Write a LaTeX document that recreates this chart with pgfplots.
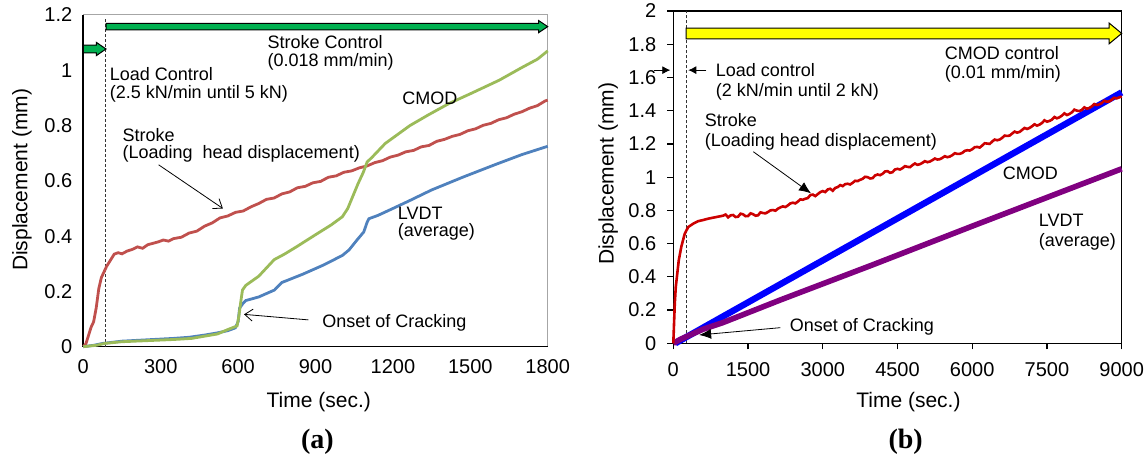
\documentclass[border=0pt]{standalone}
\usepackage{pgfplots}
\pgfplotsset{compat=1.18}
\usepackage{fontspec}
\setmainfont{Liberation Sans}
\newfontfamily\serifb{Liberation Serif}
\usetikzlibrary{calc,arrows.meta}
\definecolor{aRed}{HTML}{C0504D}
\definecolor{aGreen}{HTML}{9BBB59}
\definecolor{aBlue}{HTML}{4F81BD}
\definecolor{bRed}{HTML}{CC0000}
\definecolor{bBlue}{HTML}{0000FF}
\definecolor{bPurple}{HTML}{800080}
\definecolor{arrGreen}{HTML}{00B050}
\definecolor{arrYellow}{HTML}{FFFF00}
\newcommand{\ann}{\fontsize{9}{10.8}\selectfont}
\begin{document}
\begin{tikzpicture}
\useasboundingbox (0,0) rectangle (573pt,229.5pt);
% ---------------- (a) ----------------
\begin{axis}[
  at={(41.65pt,56.15pt)}, anchor=south west,
  scale only axis, width=232.2pt, height=165.85pt,
  xmin=0, xmax=1800, ymin=0, ymax=1.2,
  xtick={0,300,...,1800}, ytick={0,0.2,0.4,0.6,0.8,1,1.2},
  major tick length=0pt,
  axis line style={draw=gray!70, line width=0.5pt},
  /pgf/number format/assume math mode=true,
  /pgf/number format/1000 sep={},
  tick label style={font=\fontsize{10}{12}\selectfont},
  xticklabel style={yshift=-3pt},
  yticklabel style={xshift=-2pt},
  label style={font=\fontsize{10.5}{12.6}\selectfont},
  xlabel={Time (sec.)}, ylabel={Displacement (mm)},
  every axis x label/.append style={at={(rel axis cs:0.507,-0.168)}, anchor=center},
  every axis y label/.append style={at={(rel axis cs:-0.132,0.503)}, anchor=center},
  clip=false,
]
\draw[black, line width=0.8pt] (rel axis cs:0,1) -- (rel axis cs:0,0) -- (rel axis cs:1,0);
\draw[dashed, dash pattern=on 1.5pt off 1pt, line width=0.5pt, black!80] (axis cs:85,0) -- (axis cs:85,1.19);
% Stroke
\addplot[aRed, line width=1.4pt] coordinates {
(0,0) (10,0.01) (20,0.04) (30,0.07) (40,0.09) (50,0.14) (60,0.21) (70,0.25) (80,0.27) (90,0.29)
(100,0.305) (110,0.32) (120,0.335) (135,0.34) (150,0.336) (170,0.346) (190,0.352) (210,0.361) (230,0.356)
(250,0.369) (270,0.374) (290,0.379) (310,0.386) (330,0.382) (350,0.391) (380,0.396) (410,0.411) (440,0.418)
(470,0.436) (500,0.448) (530,0.466) (560,0.473) (590,0.486) (620,0.491) (650,0.506) (680,0.518) (710,0.533)
(740,0.538) (770,0.553) (800,0.56) (830,0.575) (860,0.58) (890,0.593) (920,0.598) (950,0.613) (980,0.618)
(1010,0.631) (1040,0.636) (1070,0.647) (1100,0.654) (1130,0.666) (1160,0.673) (1190,0.686) (1220,0.693)
(1250,0.705) (1280,0.71) (1310,0.723) (1340,0.728) (1370,0.743) (1400,0.75) (1430,0.761) (1460,0.768)
(1490,0.781) (1520,0.788) (1550,0.801) (1580,0.808) (1610,0.821) (1640,0.828) (1670,0.841) (1700,0.85)
(1730,0.863) (1760,0.872) (1790,0.889) (1800,0.892)};
% LVDT
\addplot[aBlue, line width=1.4pt] coordinates {
(0,0) (40,0.005) (77,0.012) (150,0.02) (250,0.025) (350,0.03) (409,0.034) (470,0.042) (520,0.05)
(560,0.058) (589,0.068) (600,0.09) (606,0.14) (620,0.158) (630,0.167) (680,0.18) (741,0.205) (769,0.232)
(850,0.262) (930,0.295) (1004,0.33) (1030,0.35) (1060,0.385) (1087,0.415) (1100,0.45) (1107,0.463)
(1142,0.475) (1200,0.50) (1266,0.529) (1350,0.567) (1473,0.614) (1600,0.66) (1700,0.695) (1800,0.725)};
% CMOD
\addplot[aGreen, line width=1.4pt] coordinates {
(0,0) (50,0.005) (85,0.012) (150,0.018) (250,0.022) (350,0.026) (420,0.03) (470,0.038) (520,0.046)
(560,0.062) (596,0.075) (603,0.11) (610,0.16) (617,0.205) (630,0.222) (680,0.255) (740,0.315) (780,0.335)
(824,0.36) (900,0.405) (960,0.44) (1004,0.47) (1025,0.50) (1045,0.545) (1065,0.59) (1085,0.63) (1100,0.668)
(1120,0.686) (1170,0.735) (1266,0.80) (1340,0.84) (1418,0.88) (1500,0.915) (1612,0.964) (1700,1.01)
(1760,1.04) (1800,1.07)};
% block arrows
\draw[fill=arrGreen, line width=0.5pt, line join=miter]
  ($(axis cs:88,1.158)+(0,1.67pt)$) -- ($(axis cs:1800,1.158)+(-4.5pt,1.67pt)$)
  -- ($(axis cs:1800,1.158)+(-4.5pt,3pt)$) -- (axis cs:1800,1.158)
  -- ($(axis cs:1800,1.158)+(-4.5pt,-3pt)$) -- ($(axis cs:1800,1.158)+(-4.5pt,-1.67pt)$)
  -- ($(axis cs:88,1.158)+(0,-1.67pt)$) -- cycle;
\draw[fill=arrGreen, line width=0.5pt, line join=miter]
  ($(axis cs:0,1.077)+(0,1.9pt)$) -- ($(axis cs:88,1.077)+(-4.8pt,1.9pt)$)
  -- ($(axis cs:88,1.077)+(-4.8pt,3.3pt)$) -- (axis cs:88,1.077)
  -- ($(axis cs:88,1.077)+(-4.8pt,-3.3pt)$) -- ($(axis cs:88,1.077)+(-4.8pt,-1.9pt)$)
  -- ($(axis cs:0,1.077)+(0,-1.9pt)$) -- cycle;
% texts
\node[anchor=west, inner sep=0pt, font=\ann] at (axis cs:713,1.102) {Stroke Control};
\node[anchor=west, inner sep=0pt, font=\ann] at (axis cs:713,1.03) {(0.018 mm/min)};
\node[anchor=west, inner sep=0pt, font=\ann] at (axis cs:101,0.987) {Load Control};
\node[anchor=west, inner sep=0pt, font=\ann] at (axis cs:101,0.914) {(2.5 kN/min until 5 kN)};
\node[anchor=west, inner sep=0pt, font=\ann] at (axis cs:1235,0.90) {CMOD};
\node[anchor=west, inner sep=0pt, font=\ann] at (axis cs:151,0.766) {Stroke};
\node[anchor=west, inner sep=0pt, font=\ann] at (axis cs:151,0.697) {(Loading\ \ head displacement)};
\node[anchor=west, inner sep=0pt, font=\ann] at (axis cs:1218,0.483) {LVDT};
\node[anchor=west, inner sep=0pt, font=\ann] at (axis cs:1218,0.416) {(average)};
\node[anchor=west, inner sep=0pt, font=\ann] at (axis cs:925,0.087) {Onset of Cracking};
\draw[line width=0.4pt, -{Straight Barb[length=4pt,width=6pt]}] (axis cs:292,0.658) -- (axis cs:541,0.50);
\draw[line width=0.4pt, -{Straight Barb[length=4pt,width=6pt]}] (axis cs:872,0.097) -- (axis cs:623,0.117);
\end{axis}
% ---------------- (b) ----------------
\begin{axis}[
  at={(336.65pt,57.85pt)}, anchor=south west,
  scale only axis, width=224.2pt, height=166.15pt,
  xmin=0, xmax=9000, ymin=0, ymax=2,
  xtick={0,1500,...,9000}, ytick={0,0.2,...,2.01},
  tick align=outside, major tick length=3pt,
  xtick pos=left, ytick pos=left,
  axis line style={line width=0.6pt},
  every tick/.style={black, line width=0.6pt},
  /pgf/number format/assume math mode=true,
  /pgf/number format/1000 sep={},
  tick label style={font=\fontsize{10}{12}\selectfont},
  xticklabel style={yshift=-3pt},
  yticklabel style={xshift=-2pt},
  label style={font=\fontsize{10.5}{12.6}\selectfont},
  xlabel={Time (sec.)}, ylabel={Displacement (mm)},
  every axis x label/.append style={at={(rel axis cs:0.5245,-0.178)}, anchor=center},
  every axis y label/.append style={at={(rel axis cs:-0.145,0.51)}, anchor=center},
  clip=false,
]
\draw[dashed, dash pattern=on 1.5pt off 1pt, line width=0.5pt, black!80] (axis cs:265,0) -- (axis cs:265,2);
% CMOD
\addplot[bBlue, line width=3.2pt] coordinates {
(40,0) (1000,0.162) (3000,0.499) (5000,0.836) (7000,1.173) (9000,1.51)};
% LVDT
\addplot[bPurple, line width=2.8pt] coordinates {
(0,0) (150,0.025) (300,0.045) (600,0.085) (1000,0.125) (2142,0.26) (4000,0.472) (6000,0.705) (8163,0.954) (9000,1.05)};
% Stroke
\addplot[bRed, line width=1.3pt] coordinates {
(0,0) (15,0.12) (30,0.24) (50,0.34) (80,0.42) (110,0.5) (160,0.58) (230,0.66) (300,0.70) (400,0.72)
(500,0.735) (600,0.742) (700,0.75) (800,0.756) (900,0.762)
(1000,0.768) (1050,0.775) (1100,0.758) (1150,0.770) (1200,0.772) (1250,0.760) (1300,0.762) (1350,0.780)
(1400,0.776) (1450,0.765) (1500,0.766) (1550,0.782) (1600,0.777) (1650,0.768) (1700,0.77) (1750,0.788)
(1800,0.784) (1850,0.782) (1900,0.79) (1950,0.80) (2000,0.802) (2050,0.798) (2100,0.81) (2150,0.818)
(2200,0.824) (2250,0.82) (2300,0.83) (2350,0.842) (2400,0.846) (2450,0.842) (2500,0.853) (2550,0.866)
(2600,0.864) (2650,0.87) (2700,0.874) (2750,0.892) (2800,0.895) (2850,0.886) (2900,0.898) (2950,0.91)
(3000,0.916) (3050,0.91) (3100,0.926) (3150,0.93) (3200,0.918) (3250,0.935) (3300,0.94) (3350,0.952)
(3400,0.946) (3450,0.958) (3500,0.96) (3550,0.956) (3600,0.966) (3650,0.978) (3700,0.976) (3750,0.984)
(3800,0.99) (3850,1.002) (3900,1.0) (3950,0.992) (4000,0.994) (4050,1.01) (4100,1.016) (4150,1.012)
(4200,1.02) (4250,1.034) (4300,1.036) (4350,1.026) (4400,1.03) (4450,1.046) (4500,1.05) (4550,1.046)
(4600,1.054) (4650,1.066) (4700,1.062) (4750,1.06) (4800,1.072) (4850,1.082) (4900,1.074) (4950,1.078)
(5000,1.086) (5050,1.096) (5100,1.09) (5150,1.094) (5200,1.102) (5250,1.112) (5300,1.106) (5350,1.108)
(5400,1.116) (5450,1.126) (5500,1.12) (5550,1.124) (5600,1.132) (5650,1.144) (5700,1.14) (5750,1.14)
(5800,1.146) (5850,1.158) (5900,1.162) (5950,1.16) (6000,1.168) (6050,1.18) (6100,1.182) (6150,1.178)
(6200,1.19) (6250,1.204) (6300,1.202) (6350,1.2) (6400,1.214) (6450,1.226) (6500,1.222) (6550,1.226)
(6600,1.236) (6650,1.25) (6700,1.248) (6750,1.25) (6800,1.262) (6850,1.274) (6900,1.268) (6950,1.272)
(7000,1.284) (7050,1.296) (7100,1.29) (7150,1.296) (7200,1.306) (7250,1.318) (7300,1.31) (7350,1.316)
(7400,1.326) (7450,1.342) (7500,1.334) (7550,1.338) (7600,1.346) (7650,1.362) (7700,1.354) (7750,1.36)
(7800,1.37) (7850,1.384) (7900,1.374) (7950,1.38) (8000,1.39) (8050,1.406) (8100,1.40) (8150,1.398)
(8200,1.404) (8250,1.42) (8300,1.412) (8350,1.416) (8400,1.426) (8450,1.44) (8500,1.434) (8550,1.438)
(8600,1.446) (8650,1.46) (8700,1.454) (8750,1.456) (8800,1.466) (8850,1.478) (8900,1.474) (8950,1.48)
(9000,1.485)};
% yellow block arrow
\draw[fill=arrYellow, line width=0.5pt, line join=miter]
  ($(axis cs:255,1.865)+(0,2.67pt)$) -- ($(axis cs:9000,1.865)+(-6.3pt,2.67pt)$)
  -- ($(axis cs:9000,1.865)+(-6.3pt,5.2pt)$) -- (axis cs:9000,1.865)
  -- ($(axis cs:9000,1.865)+(-6.3pt,-5.2pt)$) -- ($(axis cs:9000,1.865)+(-6.3pt,-2.67pt)$)
  -- ($(axis cs:255,1.865)+(0,-2.67pt)$) -- cycle;
% load control arrows
\draw[line width=0.4pt, -{Latex[length=4pt,width=4pt]}] (axis cs:-387,1.644) -- (axis cs:-60,1.644);
\draw[line width=0.4pt, -{Latex[length=4pt,width=4pt]}] (axis cs:664,1.644) -- (axis cs:301,1.644);
% texts
\node[anchor=west, inner sep=0pt, font=\ann] at (axis cs:845,1.644) {Load control};
\node[anchor=west, inner sep=0pt, font=\ann] at (axis cs:845,1.514) {(2 kN/min until 2 kN)};
\node[anchor=west, inner sep=0pt, font=\ann] at (axis cs:5445,1.745) {CMOD control};
\node[anchor=west, inner sep=0pt, font=\ann] at (axis cs:5445,1.62) {(0.01 mm/min)};
\node[anchor=west, inner sep=0pt, font=\ann] at (axis cs:626,1.343) {Stroke};
\node[anchor=west, inner sep=0pt, font=\ann] at (axis cs:626,1.213) {(Loading head displacement)};
\node[anchor=west, inner sep=0pt, font=\ann] at (axis cs:6605,1.023) {CMOD};
\node[anchor=west, inner sep=0pt, font=\ann] at (axis cs:7330,0.742) {LVDT};
\node[anchor=west, inner sep=0pt, font=\ann] at (axis cs:7330,0.611) {(average)};
\node[anchor=west, inner sep=0pt, font=\ann] at (axis cs:2330,0.10) {Onset of Cracking};
\draw[line width=0.4pt, -{Latex[length=6pt,width=5pt]}] (axis cs:1606,1.153) -- (axis cs:2764,0.9025);
\draw[line width=0.4pt, -{Latex[length=6pt,width=5pt]}] (axis cs:2149,0.094) -- (axis cs:518,0.05);
\end{axis}
\node[font=\serifb\fontsize{14}{16}\selectfont\bfseries] at (158.7pt,8.65pt) {(a)};
\node[font=\serifb\fontsize{14}{16}\selectfont\bfseries] at (452.8pt,8.65pt) {(b)};
\end{tikzpicture}
\end{document}
